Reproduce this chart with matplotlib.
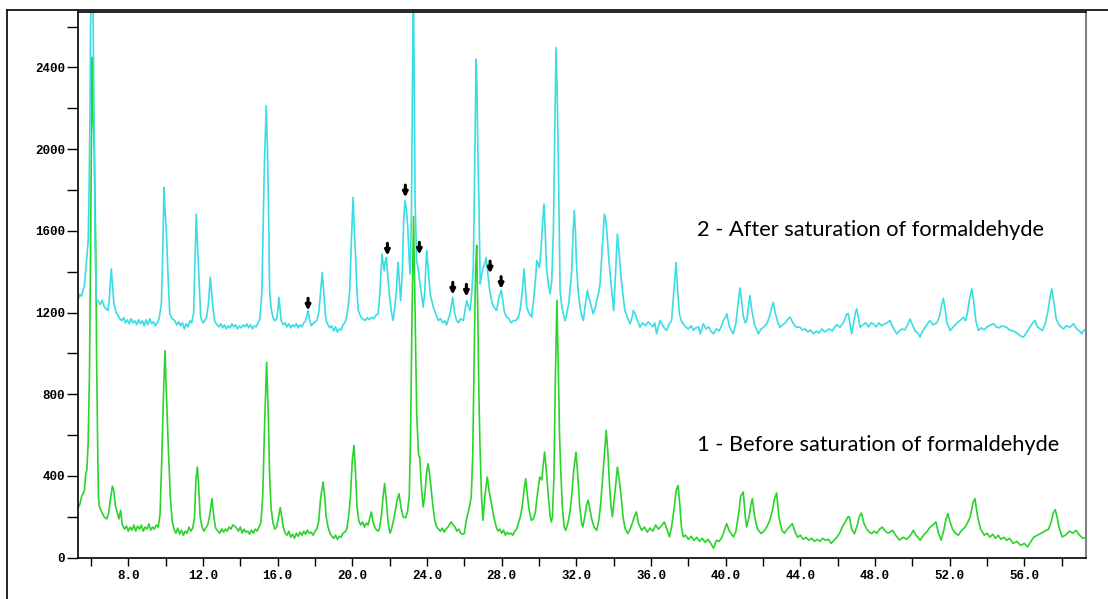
import matplotlib
matplotlib.use("Agg")
import matplotlib.pyplot as plt
from matplotlib.lines import Line2D
from matplotlib.ticker import MultipleLocator, FixedLocator

# ---- data (2-theta, counts) ----
before_sat = [  # curve 1 (green)
    (5.30, 242), (5.40, 260), (5.50, 300), (5.58, 315), (5.65, 330), (5.72, 410), (5.78, 430),
    (5.85, 560), (5.92, 900), (5.97, 1400), (6.02, 2000), (6.06, 2450), (6.10, 2200), (6.14, 2100),
    (6.18, 2000), (6.26, 1500), (6.30, 1000), (6.36, 541), (6.40, 300), (6.45, 250), (6.55, 230),
    (6.70, 200), (6.85, 190), (6.95, 220), (7.05, 290), (7.15, 350), (7.22, 330), (7.30, 260),
    (7.38, 230), (7.50, 190), (7.59, 232), (7.68, 160), (7.80, 140), (7.90, 155), (8.00, 130),
    (8.10, 150), (8.20, 135), (8.30, 160), (8.40, 130), (8.50, 155), (8.60, 140), (8.70, 160),
    (8.80, 130), (8.90, 150), (9.00, 140), (9.10, 165), (9.20, 135), (9.30, 150), (9.40, 140),
    (9.50, 160), (9.60, 150), (9.70, 210), (9.80, 500), (9.90, 850), (9.97, 1014), (10.03, 830),
    (10.08, 700), (10.15, 525), (10.25, 300), (10.35, 180), (10.45, 140), (10.55, 120), (10.65, 145),
    (10.75, 115), (10.85, 135), (10.95, 110), (11.05, 130), (11.15, 120), (11.25, 150), (11.35, 130),
    (11.45, 145), (11.55, 200), (11.62, 380), (11.70, 444), (11.77, 350), (11.85, 200), (11.95, 150),
    (12.05, 130), (12.15, 145), (12.25, 160), (12.35, 200), (12.48, 289), (12.58, 200), (12.68, 145),
    (12.80, 130), (12.90, 120), (13.00, 140), (13.10, 125), (13.20, 140), (13.30, 130), (13.40, 150),
    (13.50, 140), (13.60, 160), (13.70, 155), (13.80, 145), (13.90, 130), (14.00, 150), (14.10, 120),
    (14.20, 140), (14.30, 125), (14.40, 130), (14.50, 115), (14.60, 135), (14.70, 120), (14.80, 140),
    (14.90, 130), (15.00, 150), (15.10, 170), (15.20, 300), (15.30, 650), (15.41, 957), (15.50, 700),
    (15.57, 400), (15.65, 240), (15.75, 170), (15.85, 140), (15.95, 150), (16.05, 200), (16.14, 245),
    (16.22, 200), (16.30, 150), (16.40, 120), (16.50, 110), (16.60, 130), (16.70, 100), (16.80, 115),
    (16.90, 95), (17.00, 120), (17.10, 105), (17.20, 125), (17.30, 110), (17.40, 130), (17.50, 115),
    (17.60, 135), (17.70, 120), (17.80, 125), (17.90, 110), (18.00, 130), (18.10, 140), (18.20, 180),
    (18.30, 290), (18.43, 371), (18.52, 300), (18.60, 200), (18.70, 150), (18.80, 120), (18.90, 105),
    (19.00, 95), (19.10, 110), (19.20, 90), (19.30, 105), (19.40, 100), (19.50, 120), (19.60, 125),
    (19.70, 140), (19.80, 200), (19.90, 300), (20.00, 480), (20.09, 550), (20.17, 420), (20.25, 250),
    (20.35, 180), (20.45, 160), (20.55, 175), (20.65, 150), (20.75, 170), (20.85, 160), (20.95, 200),
    (21.02, 224), (21.10, 180), (21.20, 150), (21.30, 135), (21.40, 130), (21.47, 150), (21.55, 200),
    (21.65, 300), (21.73, 363), (21.82, 280), (21.92, 170), (22.02, 120), (22.10, 140), (22.20, 180),
    (22.30, 230), (22.40, 280), (22.50, 314), (22.60, 250), (22.72, 200), (22.85, 195), (22.95, 224),
    (23.05, 300), (23.12, 600), (23.20, 1200), (23.28, 1670), (23.36, 1200), (23.45, 700), (23.55, 500),
    (23.61, 493), (23.70, 350), (23.79, 248), (23.88, 300), (23.98, 420), (24.06, 460), (24.15, 400),
    (24.23, 330), (24.32, 250), (24.42, 180), (24.52, 150), (24.62, 140), (24.72, 130), (24.82, 145),
    (24.92, 125), (25.02, 140), (25.12, 150), (25.22, 165), (25.30, 175), (25.40, 160), (25.50, 150),
    (25.60, 130), (25.70, 140), (25.80, 120), (25.90, 115), (26.00, 118), (26.10, 180), (26.20, 220),
    (26.30, 260), (26.37, 297), (26.45, 500), (26.53, 1000), (26.60, 1400), (26.66, 1530), (26.72, 1200),
    (26.78, 800), (26.84, 541), (26.92, 300), (27.00, 183), (27.10, 300), (27.23, 395), (27.32, 330),
    (27.45, 265), (27.58, 200), (27.71, 150), (27.80, 130), (27.90, 140), (28.00, 120), (28.10, 135),
    (28.20, 110), (28.30, 125), (28.40, 115), (28.50, 120), (28.60, 110), (28.70, 130), (28.80, 140),
    (28.90, 170), (29.00, 200), (29.10, 250), (29.20, 330), (29.29, 387), (29.38, 300), (29.48, 230),
    (29.59, 183), (29.70, 190), (29.80, 220), (29.90, 300), (30.04, 395), (30.15, 380), (30.22, 450),
    (30.30, 517), (30.40, 420), (30.50, 300), (30.60, 200), (30.66, 175), (30.72, 200), (30.80, 400),
    (30.88, 900), (30.96, 1260), (31.04, 900), (31.10, 600), (31.15, 460), (31.25, 250), (31.35, 150),
    (31.43, 134), (31.55, 170), (31.65, 220), (31.75, 300), (31.85, 420), (31.98, 517), (32.08, 400),
    (32.18, 250), (32.28, 170), (32.35, 150), (32.45, 200), (32.55, 260), (32.63, 281), (32.72, 240),
    (32.82, 190), (32.95, 150), (33.09, 134), (33.20, 180), (33.30, 260), (33.40, 380), (33.50, 500),
    (33.60, 623), (33.70, 500), (33.78, 350), (33.86, 250), (33.93, 200), (34.00, 260), (34.10, 350),
    (34.20, 444), (34.30, 380), (34.40, 300), (34.50, 200), (34.62, 140), (34.76, 118), (34.88, 140),
    (35.00, 170), (35.10, 200), (35.22, 224), (35.32, 170), (35.50, 134), (35.65, 150), (35.80, 125),
    (35.95, 145), (36.10, 130), (36.25, 160), (36.40, 140), (36.55, 155), (36.71, 175), (36.85, 140),
    (36.99, 102), (37.10, 150), (37.25, 250), (37.35, 330), (37.45, 354), (37.55, 250), (37.63, 150),
    (37.73, 102), (37.85, 110), (38.00, 90), (38.15, 105), (38.30, 85), (38.45, 100), (38.60, 80),
    (38.75, 95), (38.90, 75), (39.05, 90), (39.20, 70), (39.35, 46), (39.50, 85), (39.65, 80),
    (39.80, 100), (39.95, 140), (40.05, 167), (40.20, 130), (40.35, 110), (40.42, 102), (40.55, 130),
    (40.70, 220), (40.80, 300), (40.94, 322), (41.05, 200), (41.12, 150), (41.25, 200), (41.35, 260),
    (41.43, 289), (41.55, 200), (41.70, 140), (41.90, 118), (42.05, 130), (42.20, 150), (42.35, 180),
    (42.50, 230), (42.62, 290), (42.73, 317), (42.85, 200), (43.01, 134), (43.15, 120), (43.30, 140),
    (43.45, 155), (43.57, 167), (43.70, 130), (43.85, 100), (44.00, 110), (44.15, 90), (44.30, 100),
    (44.45, 85), (44.60, 95), (44.75, 80), (44.90, 90), (45.05, 80), (45.20, 95), (45.35, 85),
    (45.50, 90), (45.65, 70), (45.80, 85), (45.95, 100), (46.10, 120), (46.25, 150), (46.40, 175),
    (46.55, 200), (46.62, 200), (46.75, 140), (46.90, 118), (47.05, 160), (47.15, 200), (47.27, 219),
    (47.40, 170), (47.55, 140), (47.70, 125), (47.83, 118), (47.95, 130), (48.10, 120), (48.25, 140),
    (48.39, 150), (48.55, 130), (48.70, 120), (48.94, 134), (49.10, 110), (49.31, 86), (49.50, 100),
    (49.70, 90), (49.90, 110), (50.05, 134), (50.20, 110), (50.42, 86), (50.60, 110), (50.80, 130),
    (50.95, 150), (51.10, 160), (51.26, 175), (51.40, 120), (51.54, 86), (51.70, 140), (51.80, 190),
    (51.90, 216), (52.00, 180), (52.15, 140), (52.30, 120), (52.46, 110), (52.60, 130), (52.83, 150),
    (52.95, 170), (53.10, 200), (53.25, 270), (53.35, 289), (53.50, 200), (53.65, 140), (53.86, 110),
    (54.00, 120), (54.15, 100), (54.30, 115), (54.45, 95), (54.60, 110), (54.75, 90), (54.90, 100),
    (55.05, 85), (55.20, 95), (55.40, 70), (55.60, 80), (55.80, 60), (56.00, 70), (56.17, 53),
    (56.35, 80), (56.50, 100), (56.70, 110), (56.90, 120), (57.10, 130), (57.30, 140), (57.45, 180),
    (57.55, 220), (57.65, 235), (57.75, 200), (57.85, 150), (58.02, 102), (58.20, 110), (58.40, 130),
    (58.60, 120), (58.77, 134), (58.95, 110), (59.14, 94), (59.30, 100),
]

after_sat = [  # curve 2 (cyan)
    (5.30, 1259), (5.40, 1290), (5.50, 1280), (5.57, 1308), (5.65, 1330), (5.75, 1438), (5.85, 1552),
    (5.90, 1800), (5.94, 2100), (5.98, 2600), (6.02, 2800), (6.10, 2800), (6.14, 2400), (6.18, 2000),
    (6.22, 1519), (6.29, 1259), (6.38, 1259), (6.50, 1240), (6.60, 1260), (6.70, 1230), (6.80, 1220),
    (6.91, 1210), (6.98, 1260), (7.04, 1350), (7.09, 1414), (7.15, 1340), (7.23, 1243), (7.35, 1200),
    (7.45, 1185), (7.55, 1170), (7.65, 1160), (7.75, 1175), (7.85, 1150), (7.95, 1165), (8.05, 1145),
    (8.15, 1170), (8.25, 1150), (8.35, 1160), (8.45, 1140), (8.55, 1165), (8.65, 1145), (8.75, 1160),
    (8.85, 1135), (8.95, 1165), (9.05, 1140), (9.15, 1170), (9.25, 1145), (9.35, 1155), (9.45, 1135),
    (9.55, 1150), (9.65, 1170), (9.77, 1243), (9.85, 1500), (9.91, 1812), (9.97, 1700), (10.04, 1601),
    (10.12, 1400), (10.22, 1194), (10.35, 1170), (10.49, 1161), (10.60, 1140), (10.70, 1155), (10.80, 1135),
    (10.90, 1150), (11.00, 1120), (11.10, 1145), (11.20, 1130), (11.30, 1160), (11.40, 1150), (11.50, 1200),
    (11.56, 1405), (11.64, 1682), (11.70, 1550), (11.77, 1405), (11.88, 1177), (12.00, 1150), (12.10, 1161),
    (12.20, 1180), (12.30, 1250), (12.39, 1373), (12.46, 1300), (12.53, 1226), (12.62, 1160), (12.71, 1146),
    (12.85, 1130), (12.95, 1145), (13.05, 1125), (13.15, 1140), (13.25, 1120), (13.35, 1135), (13.45, 1125),
    (13.55, 1145), (13.65, 1130), (13.75, 1140), (13.85, 1120), (13.95, 1135), (14.05, 1125), (14.15, 1140),
    (14.25, 1130), (14.35, 1145), (14.45, 1125), (14.55, 1140), (14.65, 1120), (14.75, 1135), (14.85, 1130),
    (14.95, 1150), (15.05, 1170), (15.16, 1308), (15.24, 1700), (15.30, 1959), (15.39, 2212), (15.44, 2050),
    (15.48, 1878), (15.53, 1600), (15.57, 1308), (15.65, 1220), (15.75, 1177), (15.85, 1160), (15.95, 1170),
    (16.02, 1220), (16.07, 1275), (16.13, 1220), (16.19, 1161), (16.30, 1140), (16.40, 1150), (16.50, 1130),
    (16.60, 1145), (16.70, 1125), (16.80, 1140), (16.90, 1130), (17.00, 1145), (17.10, 1125), (17.20, 1140),
    (17.30, 1130), (17.40, 1150), (17.50, 1160), (17.58, 1190), (17.63, 1210), (17.70, 1170), (17.80, 1136),
    (17.95, 1150), (18.10, 1161), (18.20, 1200), (18.30, 1300), (18.39, 1397), (18.47, 1300), (18.55, 1200),
    (18.60, 1161), (18.70, 1140), (18.80, 1125), (18.90, 1135), (19.00, 1110), (19.10, 1130), (19.20, 1105),
    (19.30, 1120), (19.40, 1115), (19.50, 1140), (19.60, 1150), (19.70, 1180), (19.80, 1250), (19.86, 1308),
    (19.95, 1550), (20.04, 1764), (20.11, 1600), (20.18, 1470), (20.25, 1300), (20.32, 1210), (20.45, 1180),
    (20.55, 1170), (20.68, 1161), (20.80, 1175), (20.90, 1165), (21.04, 1177), (21.15, 1170), (21.25, 1185),
    (21.38, 1194), (21.48, 1300), (21.59, 1487), (21.65, 1440), (21.70, 1405), (21.76, 1450), (21.82, 1470),
    (21.90, 1380), (22.00, 1275), (22.10, 1200), (22.18, 1161), (22.27, 1220), (22.36, 1308), (22.45, 1446),
    (22.52, 1350), (22.59, 1259), (22.68, 1400), (22.75, 1650), (22.82, 1747), (22.90, 1700), (22.97, 1617),
    (23.05, 1450), (23.10, 1389), (23.17, 1700), (23.22, 2300), (23.27, 2800), (23.31, 2400), (23.36, 1747),
    (23.45, 1454), (23.55, 1400), (23.63, 1340), (23.72, 1280), (23.80, 1226), (23.88, 1300), (23.95, 1450),
    (23.99, 1503), (24.08, 1400), (24.17, 1291), (24.34, 1226), (24.45, 1200), (24.60, 1161), (24.72, 1170),
    (24.85, 1150), (24.95, 1160), (25.05, 1140), (25.15, 1170), (25.23, 1194), (25.30, 1230), (25.38, 1275),
    (25.47, 1200), (25.59, 1161), (25.70, 1150), (25.80, 1170), (25.95, 1161), (26.05, 1220), (26.13, 1259),
    (26.22, 1230), (26.31, 1210), (26.40, 1300), (26.48, 1422), (26.54, 1800), (26.58, 2100), (26.63, 2440),
    (26.68, 2300), (26.72, 2000), (26.78, 1747), (26.85, 1340), (26.92, 1380), (27.02, 1422), (27.10, 1440),
    (27.16, 1470), (27.22, 1420), (27.28, 1373), (27.37, 1300), (27.46, 1260), (27.55, 1230), (27.65, 1220),
    (27.73, 1210), (27.82, 1260), (27.91, 1291), (27.98, 1310), (28.06, 1260), (28.15, 1200), (28.27, 1178),
    (28.40, 1170), (28.50, 1150), (28.63, 1161), (28.75, 1160), (28.90, 1178), (29.00, 1220), (29.10, 1300),
    (29.20, 1414), (29.27, 1320), (29.34, 1226), (29.45, 1200), (29.60, 1178), (29.70, 1250), (29.80, 1350),
    (29.88, 1454), (29.95, 1440), (30.02, 1420), (30.10, 1500), (30.20, 1650), (30.27, 1731), (30.33, 1600),
    (30.40, 1422), (30.50, 1340), (30.59, 1291), (30.68, 1350), (30.77, 1600), (30.83, 2000), (30.91, 2497),
    (30.97, 2300), (31.04, 1910), (31.10, 1500), (31.13, 1305), (31.22, 1230), (31.30, 1194), (31.40, 1160),
    (31.48, 1190), (31.60, 1250), (31.75, 1400), (31.83, 1600), (31.89, 1699), (31.95, 1600), (32.00, 1454),
    (32.10, 1300), (32.20, 1226), (32.30, 1180), (32.38, 1161), (32.48, 1240), (32.59, 1308), (32.68, 1270),
    (32.77, 1243), (32.90, 1194), (33.00, 1220), (33.10, 1260), (33.20, 1300), (33.27, 1340), (33.38, 1500),
    (33.50, 1682), (33.58, 1650), (33.63, 1600), (33.75, 1450), (33.89, 1308), (34.00, 1210), (34.10, 1400),
    (34.20, 1585), (34.30, 1480), (34.38, 1389), (34.48, 1300), (34.60, 1210), (34.72, 1180), (34.88, 1145),
    (35.00, 1180), (35.05, 1210), (35.15, 1194), (35.28, 1160), (35.41, 1129), (35.55, 1150), (35.70, 1135),
    (35.85, 1155), (35.95, 1145), (36.10, 1130), (36.20, 1150), (36.30, 1096), (36.48, 1161), (36.60, 1140),
    (36.75, 1120), (36.84, 1113), (36.95, 1140), (37.10, 1161), (37.22, 1300), (37.34, 1446), (37.43, 1300),
    (37.52, 1194), (37.62, 1160), (37.73, 1145), (37.85, 1130), (38.00, 1120), (38.15, 1135), (38.27, 1113),
    (38.40, 1125), (38.55, 1130), (38.63, 1096), (38.80, 1145), (38.95, 1120), (39.10, 1130), (39.20, 1110),
    (39.34, 1096), (39.50, 1120), (39.65, 1110), (39.80, 1140), (39.88, 1161), (40.00, 1180), (40.06, 1194),
    (40.20, 1130), (40.40, 1096), (40.55, 1150), (40.68, 1260), (40.77, 1320), (40.86, 1250), (40.95, 1180),
    (41.05, 1150), (41.13, 1161), (41.22, 1230), (41.30, 1283), (41.40, 1210), (41.55, 1140), (41.75, 1096),
    (41.90, 1120), (42.05, 1130), (42.20, 1145), (42.35, 1180), (42.48, 1230), (42.55, 1250), (42.65, 1200),
    (42.80, 1150), (42.91, 1128), (43.05, 1140), (43.20, 1150), (43.35, 1170), (43.45, 1177), (43.60, 1150),
    (43.75, 1130), (43.98, 1128), (44.10, 1115), (44.25, 1120), (44.40, 1105), (44.55, 1115), (44.70, 1096),
    (44.85, 1110), (45.00, 1100), (45.15, 1120), (45.30, 1105), (45.41, 1112), (45.55, 1120), (45.70, 1110),
    (45.85, 1130), (45.95, 1140), (46.12, 1128), (46.30, 1150), (46.49, 1194), (46.57, 1194), (46.68, 1130),
    (46.75, 1096), (46.85, 1150), (46.95, 1200), (47.02, 1218), (47.10, 1180), (47.20, 1128), (47.35, 1140),
    (47.50, 1150), (47.65, 1130), (47.80, 1150), (47.91, 1145), (48.05, 1130), (48.20, 1150), (48.35, 1135),
    (48.50, 1145), (48.65, 1150), (48.80, 1161), (48.95, 1130), (49.16, 1096), (49.30, 1110), (49.45, 1120),
    (49.60, 1115), (49.75, 1140), (49.88, 1169), (50.00, 1140), (50.15, 1110), (50.30, 1100), (50.41, 1080),
    (50.55, 1110), (50.70, 1130), (50.85, 1150), (50.95, 1161), (51.10, 1140), (51.31, 1150), (51.45, 1180),
    (51.55, 1230), (51.66, 1270), (51.75, 1220), (51.85, 1150), (52.02, 1112), (52.20, 1130), (52.40, 1150),
    (52.60, 1165), (52.73, 1177), (52.85, 1160), (52.95, 1200), (53.05, 1260), (53.18, 1317), (53.28, 1260),
    (53.40, 1160), (53.53, 1112), (53.70, 1125), (53.85, 1115), (54.00, 1130), (54.20, 1140), (54.34, 1145),
    (54.50, 1130), (54.65, 1125), (54.80, 1135), (55.05, 1128), (55.20, 1115), (55.40, 1110), (55.60, 1100),
    (55.80, 1085), (55.95, 1080), (56.10, 1100), (56.30, 1130), (56.45, 1150), (56.57, 1161), (56.70, 1130),
    (56.85, 1120), (56.96, 1112), (57.10, 1140), (57.25, 1200), (57.38, 1280), (57.47, 1317), (57.58, 1250),
    (57.70, 1170), (57.82, 1145), (57.95, 1130), (58.10, 1120), (58.25, 1135), (58.44, 1128), (58.62, 1145),
    (58.80, 1120), (58.95, 1110), (59.07, 1096), (59.20, 1115), (59.30, 1112),
]

# marked peaks on curve 2 (arrow positions: 2-theta, counts at arrow tip)
arrow_2theta = [17.63, 21.88, 22.84, 23.59, 25.38, 26.11, 27.38, 27.97]
arrow_counts = [1210, 1479, 1764, 1484, 1288, 1278, 1392, 1316]

label_after = "2 - After saturation of formaldehyde"
label_before = "1 - Before saturation of formaldehyde"
x_major = [8, 12, 16, 20, 24, 28, 32, 36, 40, 44, 48, 52, 56]
y_major = [0, 400, 800, 1200, 1600, 2000, 2400]

# ---- figure ----
W, H = 1108, 599
fig = plt.figure(figsize=(W / 100, H / 100), dpi=100)
ax = fig.add_axes([77.7 / W, 1 - 557.7 / H, (1086 - 77.7) / W, (557.7 - 11.7) / H])

x1, y1 = zip(*before_sat)
x2, y2 = zip(*after_sat)
ax.plot(x1, y1, color="#2ad42a", lw=1.2, solid_joinstyle="round")
ax.plot(x2, y2, color="#3adde4", lw=1.2, solid_joinstyle="round")

ax.set_xlim(5.29, 59.30)
ax.set_ylim(0, 2673)

tick_font = dict(family="Liberation Mono", weight="bold", size=9)
ax.xaxis.set_major_locator(FixedLocator(x_major))
ax.set_xticklabels([f"{v:.1f}" for v in x_major], fontdict=tick_font)
ax.xaxis.set_minor_locator(FixedLocator([v + 2 for v in [4] + x_major]))
ax.yaxis.set_major_locator(FixedLocator(y_major))
ax.set_yticklabels([str(v) for v in y_major], fontdict=tick_font)
ax.yaxis.set_minor_locator(MultipleLocator(200))
ax.tick_params(axis="both", which="both", direction="out", length=6, width=1, color="black")
ax.tick_params(axis="x", which="both", pad=3)
ax.tick_params(axis="y", which="both", pad=1, length=8)

for s in ["left", "top", "bottom"]:
    ax.spines[s].set_color("black")
    ax.spines[s].set_linewidth(1.2)
ax.spines["right"].set_color("#808080")
ax.spines["right"].set_linewidth(1.5)

for xa, ya in zip(arrow_2theta, arrow_counts):
    ax.annotate("", xy=(xa, ya), xytext=(xa, ya + 60),
                arrowprops=dict(arrowstyle="-|>", color="black", lw=2.2,
                                mutation_scale=7, shrinkA=0, shrinkB=0))

txt_font = dict(family=["Lato", "DejaVu Sans"], size=15.7, color="black")
fig.text(697 / W, 1 - 230 / H, label_after, ha="left", va="center", **txt_font)
fig.text(697 / W, 1 - 445 / H, label_before, ha="left", va="center", **txt_font)

# outer frame lines (left and top)
fig.add_artist(Line2D([7 / W, 7 / W], [0, 1 - 9.5 / H], color="black", lw=1.2))
fig.add_artist(Line2D([7 / W, 1], [1 - 9.5 / H, 1 - 9.5 / H], color="black", lw=1.2))

fig.savefig("out.png", dpi=100, facecolor="white")
